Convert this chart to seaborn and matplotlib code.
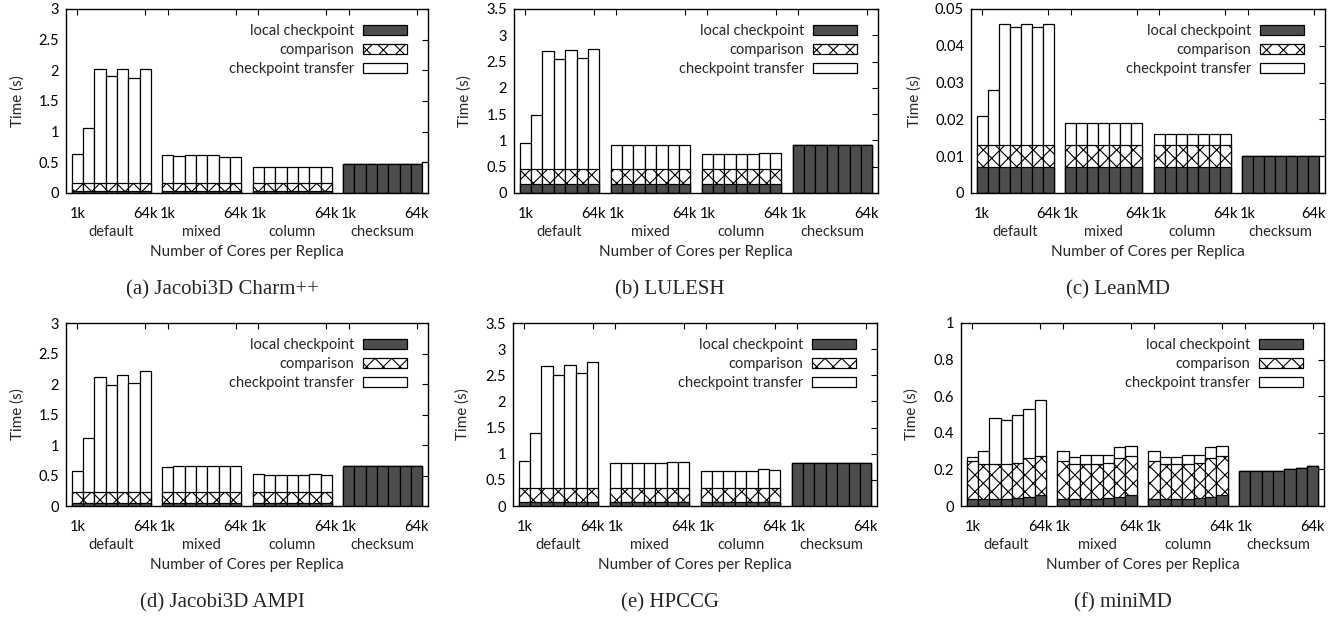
import numpy as np
import pandas as pd
import matplotlib
matplotlib.use("Agg")
import matplotlib.pyplot as plt
import seaborn as sns
from matplotlib.patches import Patch
from matplotlib.ticker import FormatStrFormatter, MultipleLocator

sns.set_style("white")
plt.rcParams["font.family"] = ["Lato", "DejaVu Sans"]
plt.rcParams["hatch.linewidth"] = 0.8
plt.rcParams["hatch.color"] = "black"

# ---------------- data ----------------
GROUPS = ["default", "mixed", "column", "checksum"]
CORES = ["1k", "2k", "4k", "8k", "16k", "32k", "64k"]
SERIES = ["local checkpoint", "comparison", "checkpoint transfer"]

# (a) Jacobi3D Charm++  -- 28 values: default, mixed, column, checksum (1k..64k each)
A_LOCAL = [0.04, 0.04, 0.04, 0.04, 0.04, 0.04, 0.04,
           0.04, 0.04, 0.04, 0.04, 0.04, 0.04, 0.04,
           0.04, 0.04, 0.04, 0.04, 0.04, 0.04, 0.04,
           0.47, 0.47, 0.47, 0.47, 0.47, 0.48, 0.48]
A_CMP = [0.12, 0.12, 0.12, 0.12, 0.12, 0.12, 0.12,
         0.12, 0.12, 0.12, 0.12, 0.12, 0.12, 0.12,
         0.12, 0.12, 0.12, 0.12, 0.12, 0.12, 0.12,
         0, 0, 0, 0, 0, 0, 0]
A_XFER = [0.48, 0.90, 1.86, 1.74, 1.86, 1.72, 1.86,
          0.46, 0.45, 0.46, 0.46, 0.46, 0.43, 0.43,
          0.27, 0.27, 0.27, 0.27, 0.27, 0.26, 0.26,
          0, 0, 0, 0, 0, 0, 0]
A_EDGE = 0.50

# (b) LULESH
B_LOCAL = [0.18, 0.18, 0.18, 0.18, 0.18, 0.18, 0.18,
           0.18, 0.18, 0.18, 0.18, 0.18, 0.18, 0.18,
           0.18, 0.18, 0.18, 0.18, 0.18, 0.18, 0.18,
           0.92, 0.92, 0.92, 0.92, 0.92, 0.92, 0.92]
B_CMP = [0.28, 0.28, 0.28, 0.28, 0.28, 0.28, 0.28,
         0.28, 0.28, 0.28, 0.28, 0.28, 0.28, 0.28,
         0.28, 0.28, 0.28, 0.28, 0.28, 0.28, 0.28,
         0, 0, 0, 0, 0, 0, 0]
B_XFER = [0.50, 1.02, 2.25, 2.09, 2.26, 2.10, 2.27,
          0.45, 0.45, 0.45, 0.45, 0.45, 0.45, 0.45,
          0.29, 0.29, 0.29, 0.29, 0.29, 0.30, 0.30,
          0, 0, 0, 0, 0, 0, 0]
B_EDGE = None

# (c) LeanMD
C_LOCAL = [0.007, 0.007, 0.007, 0.007, 0.007, 0.007, 0.007,
           0.007, 0.007, 0.007, 0.007, 0.007, 0.007, 0.007,
           0.007, 0.007, 0.007, 0.007, 0.007, 0.007, 0.007,
           0.010, 0.010, 0.010, 0.010, 0.010, 0.010, 0.010]
C_CMP = [0.006, 0.006, 0.006, 0.006, 0.006, 0.006, 0.006,
         0.006, 0.006, 0.006, 0.006, 0.006, 0.006, 0.006,
         0.006, 0.006, 0.006, 0.006, 0.006, 0.006, 0.006,
         0, 0, 0, 0, 0, 0, 0]
C_XFER = [0.008, 0.015, 0.033, 0.032, 0.033, 0.032, 0.033,
          0.006, 0.006, 0.006, 0.006, 0.006, 0.006, 0.006,
          0.003, 0.003, 0.003, 0.003, 0.003, 0.003, 0.003,
          0, 0, 0, 0, 0, 0, 0]
C_EDGE = 0.010

# (d) Jacobi3D AMPI
D_LOCAL = [0.05, 0.05, 0.05, 0.05, 0.05, 0.05, 0.05,
           0.05, 0.05, 0.05, 0.05, 0.05, 0.05, 0.05,
           0.05, 0.05, 0.05, 0.05, 0.05, 0.05, 0.05,
           0.65, 0.65, 0.65, 0.65, 0.65, 0.65, 0.66]
D_CMP = [0.18, 0.18, 0.18, 0.18, 0.18, 0.18, 0.18,
         0.18, 0.18, 0.18, 0.18, 0.18, 0.18, 0.18,
         0.18, 0.18, 0.18, 0.18, 0.18, 0.18, 0.18,
         0, 0, 0, 0, 0, 0, 0]
D_XFER = [0.35, 0.89, 1.88, 1.76, 1.91, 1.79, 1.98,
          0.41, 0.42, 0.42, 0.42, 0.42, 0.43, 0.43,
          0.29, 0.28, 0.28, 0.28, 0.28, 0.29, 0.28,
          0, 0, 0, 0, 0, 0, 0]
D_EDGE = None

# (e) HPCCG
E_LOCAL = [0.07, 0.07, 0.07, 0.07, 0.07, 0.07, 0.07,
           0.07, 0.07, 0.07, 0.07, 0.07, 0.07, 0.07,
           0.07, 0.07, 0.07, 0.07, 0.07, 0.07, 0.07,
           0.82, 0.82, 0.82, 0.82, 0.82, 0.82, 0.82]
E_CMP = [0.28, 0.28, 0.28, 0.28, 0.28, 0.28, 0.28,
         0.28, 0.28, 0.28, 0.28, 0.28, 0.28, 0.28,
         0.28, 0.28, 0.28, 0.28, 0.28, 0.28, 0.28,
         0, 0, 0, 0, 0, 0, 0]
E_XFER = [0.52, 1.04, 2.32, 2.15, 2.34, 2.20, 2.40,
          0.48, 0.48, 0.48, 0.48, 0.48, 0.50, 0.50,
          0.31, 0.31, 0.31, 0.31, 0.31, 0.35, 0.33,
          0, 0, 0, 0, 0, 0, 0]
E_EDGE = None

# (f) miniMD
F_LOCAL = [0.036, 0.036, 0.037, 0.037, 0.042, 0.047, 0.062,
           0.036, 0.036, 0.037, 0.037, 0.042, 0.047, 0.062,
           0.036, 0.036, 0.037, 0.037, 0.042, 0.047, 0.062,
           0.19, 0.19, 0.19, 0.19, 0.20, 0.205, 0.22]
F_CMP = [0.209, 0.191, 0.190, 0.190, 0.193, 0.213, 0.213,
         0.209, 0.191, 0.191, 0.191, 0.191, 0.213, 0.213,
         0.209, 0.191, 0.190, 0.191, 0.191, 0.213, 0.213,
         0, 0, 0, 0, 0, 0, 0]
F_XFER = [0.025, 0.073, 0.253, 0.243, 0.265, 0.270, 0.305,
          0.055, 0.043, 0.052, 0.052, 0.047, 0.060, 0.055,
          0.055, 0.043, 0.043, 0.052, 0.047, 0.060, 0.055,
          0, 0, 0, 0, 0, 0, 0]
F_EDGE = None

CAPTIONS = ["(a) Jacobi3D Charm++", "(b) LULESH", "(c) LeanMD",
            "(d) Jacobi3D AMPI", "(e) HPCCG", "(f) miniMD"]
YMAX = [3, 3.5, 0.05, 3, 3.5, 1]
YSTEP = [0.5, 0.5, 0.01, 0.5, 0.5, 0.2]

DATA = [(A_LOCAL, A_CMP, A_XFER, A_EDGE), (B_LOCAL, B_CMP, B_XFER, B_EDGE),
        (C_LOCAL, C_CMP, C_XFER, C_EDGE), (D_LOCAL, D_CMP, D_XFER, D_EDGE),
        (E_LOCAL, E_CMP, E_XFER, E_EDGE), (F_LOCAL, F_CMP, F_XFER, F_EDGE)]

# ---------------- layout (pixels) ----------------
W, H = 1338, 618
RECTS = [(66, 9, 428, 193), (514, 9, 878, 193), (971, 9, 1325, 193),
         (66, 323, 428, 506), (513, 323, 877, 506), (961, 323, 1324, 506)]
YLAB_OFF = [41, 42, 49, 41, 43, 42]
CAP_X = [222, 670, 1118, 222, 670, 1123]

DARK = "#4d4d4d"
FS = 10.5

fig = plt.figure(figsize=(W / 100, H / 100), dpi=100)

nb = len(CORES)
positions = [g * (nb + 1) + i for g in range(len(GROUPS)) for i in range(nb)]

for k in range(6):
    l, t, r, b = RECTS[k]
    ax = fig.add_axes([l / W, 1 - b / H, (r - l) / W, (b - t) / H])
    local, cmp_, xfer, edge = DATA[k]
    df = pd.DataFrame({"pos": positions, "local": local, "cmp": cmp_, "xfer": xfer})
    df["cmp_top"] = df["local"] + df["cmp"]
    df["total"] = df["cmp_top"] + df["xfer"]

    common = dict(x="pos", native_scale=True, width=1.0, errorbar=None,
                  edgecolor="black", linewidth=0.9, ax=ax)
    sns.barplot(data=df, y="total", color="white", saturation=1, **common)
    sns.barplot(data=df, y="cmp_top", color="white", saturation=1, hatch="xx", **common)
    sns.barplot(data=df, y="local", color=DARK, saturation=1, **common)
    if edge is not None:
        edf = pd.DataFrame({"pos": [positions[-1] + 1], "total": [edge]})
        sns.barplot(data=edf, y="total", color="white", saturation=1, **common)

    ax.set_xlim(-1, positions[-1] + 1)
    ax.set_ylim(0, YMAX[k])
    ax.yaxis.set_major_locator(MultipleLocator(YSTEP[k]))
    ax.yaxis.set_major_formatter(FormatStrFormatter("%g"))

    tick_pos, tick_lab = [], []
    for g in range(len(GROUPS)):
        tick_pos += [positions[g * nb], positions[g * nb + nb - 1]]
        tick_lab += [CORES[0], CORES[-1]]
    ax.set_xticks(tick_pos)
    ax.set_xticklabels(tick_lab)
    ax.tick_params(axis="both", direction="in", length=4, width=0.8,
                   top=True, right=True, labelsize=FS, colors="black")
    ax.tick_params(axis="x", pad=10)
    ax.tick_params(axis="y", pad=5)
    for s in ax.spines.values():
        s.set_visible(True)
        s.set_color("black")
        s.set_linewidth(1.0)

    ax.set_xlabel("")
    ax.set_ylabel("Time (s)", fontsize=FS + 0.5)
    ax.yaxis.set_label_coords(-YLAB_OFF[k] / (r - l), 0.5)

    for g, name in enumerate(GROUPS):
        cx = (positions[g * nb] + positions[g * nb + nb - 1]) / 2
        ax.annotate(name, xy=(cx, 0), xycoords=("data", "axes fraction"),
                    xytext=(0, -39), textcoords="offset pixels",
                    ha="center", va="center", fontsize=FS)
    ax.annotate("Number of Cores per Replica", xy=(0.5, 0), xycoords="axes fraction",
                xytext=(0, -59), textcoords="offset pixels",
                ha="center", va="center", fontsize=FS + 0.5)

    fig.text(CAP_X[k] / W, 1 - (b + 97) / H, CAPTIONS[k], ha="center", va="center",
             fontsize=15, family=["Liberation Serif", "DejaVu Serif"])

    handles = [Patch(facecolor=DARK, edgecolor="black", linewidth=0.9),
               Patch(facecolor="white", edgecolor="black", hatch="xx", linewidth=0.9),
               Patch(facecolor="white", edgecolor="black", linewidth=0.9)]
    ax.legend(handles, SERIES, loc="upper right",
              bbox_to_anchor=(1 - 21 / (r - l), 1 - 15 / (b - t)),
              frameon=False, markerfirst=False, handlelength=3.0, handleheight=0.7,
              labelspacing=0.35, borderpad=0, borderaxespad=0, handletextpad=0.6,
              fontsize=FS)

fig.savefig("out.png", dpi=100)
